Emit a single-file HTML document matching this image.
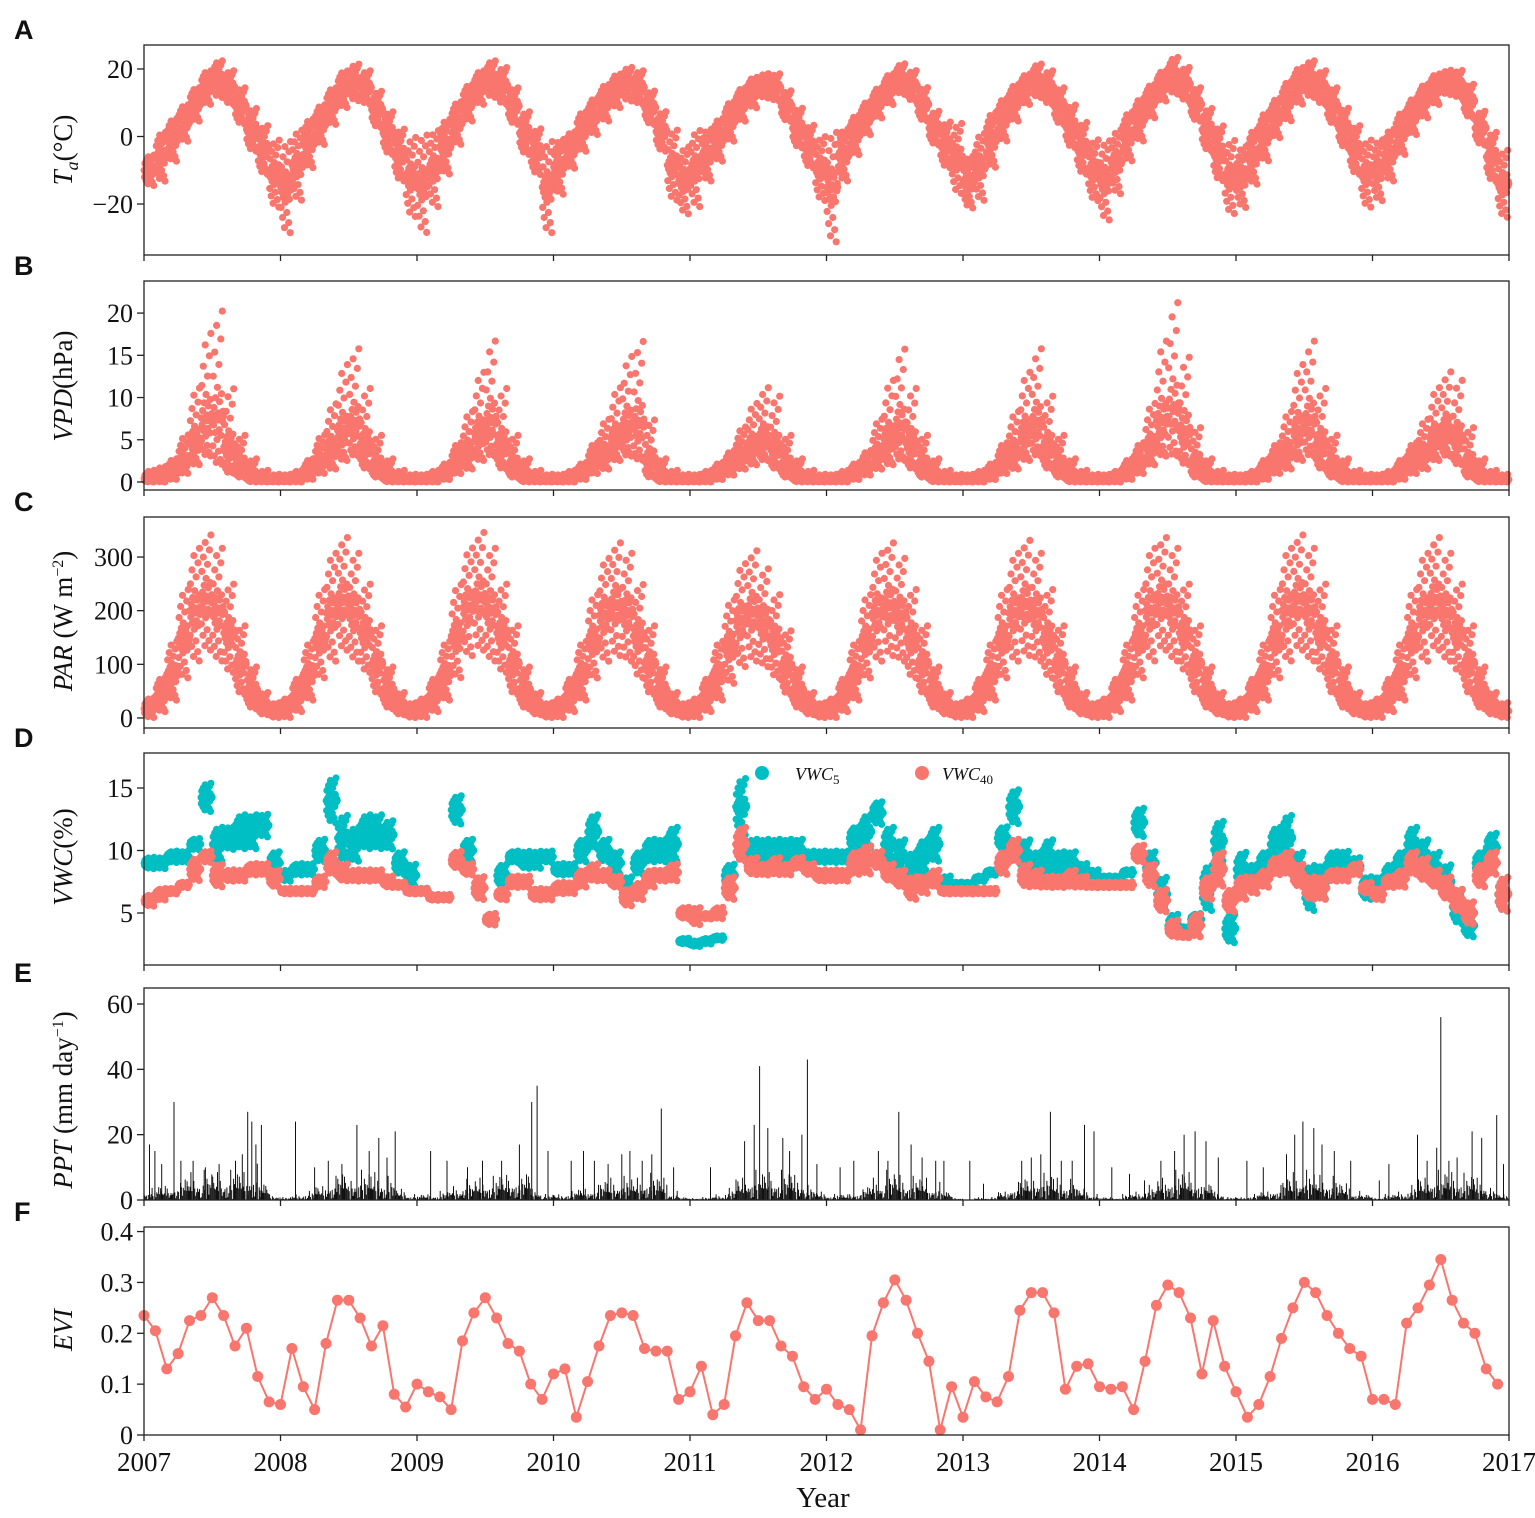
<!DOCTYPE html>
<html><head><meta charset="utf-8">
<style>
html,body{margin:0;padding:0;background:#fff;}
svg{display:block;}
.tick{font-family:"Liberation Serif",serif;font-size:26px;fill:#111;}
.plab{font-family:"Liberation Sans",sans-serif;font-weight:bold;font-size:27px;fill:#111;}
.ytitle{font-family:"Liberation Serif",serif;font-size:27px;fill:#111;}
</style></head>
<body>
<svg id="chart" width="1535" height="1518" xmlns="http://www.w3.org/2000/svg"></svg>
<script>
// ---------- data (monthly, Jan 2007 .. Dec 2016) ----------
const taLo = [-15,-14,-8,-2,4,9,11,9,3,-5,-12,-22, -30,-20,-10,-3,3,8,10,9,2,-6,-14,-25, -30,-22,-12,-3,4,9,11,9,3,-6,-12,-30, -18,-10,-5,0,4,8,10,9,3,-5,-20,-24, -22,-14,-8,-2,4,8,11,10,4,-4,-10,-20, -33,-14,-6,0,5,9,12,10,4,-3,-10,-18, -22,-20,-10,-2,4,9,11,9,3,-4,-12,-20, -26,-18,-8,-2,5,10,12,10,4,-5,-14,-24, -22,-15,-8,-1,4,9,11,9,3,-4,-12,-22, -20,-14,-6,0,5,9,12,11,5,-3,-14,-25];
const taHi = [-5,2,6,10,15,20,23,20,15,9,4,0, 0,3,6,10,15,20,22,20,14,8,3,1, 2,3,6,11,16,20,23,21,15,8,3,0, 0,2,8,12,16,19,21,20,14,8,3,-2, 3,3,6,11,15,18,19,19,14,9,4,1, 3,3,7,11,15,19,22,20,15,8,5,5, -5,2,8,12,16,19,22,20,15,10,5,0, 0,3,8,12,16,20,24,21,15,9,4,0, -2,3,8,12,17,21,23,20,15,9,4,0, 0,3,8,12,16,19,20,20,16,8,2,-3];
const vpdLo = [0,0,0.3,1,2,3,2,1,0.5,0,0,0, 0,0,0.3,1,1.5,2.5,3,1.5,0.5,0,0,0, 0,0,0.3,1,1.5,2.5,3,1.5,0.5,0,0,0, 0,0,0.3,1,1.5,2.5,3,2.5,0.5,0,0,0, 0,0,0.3,0.8,1.5,2,2.5,1.5,0.5,0,0,0, 0,0,0.3,0.8,1.5,2,2.5,1.5,0.5,0,0,0, 0,0,0.3,1,1.5,2.5,3,1.5,0.5,0,0,0, 0,0,0.3,1,2,3,3,2,0.5,0,0,0, 0,0,0.3,1,1.5,2.5,3,1.5,0.5,0,0,0, 0,0,0.3,1,1.5,2.5,3,2,0.5,0,0,0];
const vpdHi = [1.5,2,3,6,12,19,22,12,6,3,1.5,1, 1,1.5,3,6,10,15,17,12,6,3,1.5,1, 1,1.5,2.5,5,9,14,18,12,6,3,1.5,1, 1,1.5,2.5,5,8,12,16,18,8,3,1.5,1, 1,1.5,2.5,4,7,10,12,11,6,3,1.5,1, 1,1.5,2.5,4,8,13,17,12,6,3,1.5,1, 1,1.5,2.5,5,9,14,17,11,6,3,1.5,1, 1,1.5,3,5,10,18,23,16,7,3,1.5,1, 1,1.5,3,5,9,15,18,12,6,3,1.5,1, 1,1.5,3,5,8,12,14,13,7,3,1.5,1];
const parLo = [0,10,30,70,100,120,100,80,40,15,5,0, 0,10,30,70,100,120,100,80,40,15,5,0, 0,10,30,70,110,120,100,80,40,15,5,0, 0,10,30,70,100,110,100,70,40,15,5,0, 0,10,30,60,90,100,90,70,40,15,5,0, 0,10,30,70,100,110,100,70,40,15,5,0, 0,10,30,70,100,110,100,70,40,15,5,0, 0,10,30,70,100,120,100,80,40,15,5,0, 0,10,30,70,100,120,100,80,40,15,5,0, 0,10,30,70,100,120,100,80,40,15,5,0];
const parHi = [40,80,150,250,330,355,330,260,180,100,50,30, 40,80,150,250,320,350,320,260,180,100,50,30, 40,80,150,260,330,360,330,260,180,100,50,30, 40,80,150,240,310,340,320,260,180,100,50,30, 40,80,150,230,300,325,290,240,170,100,50,30, 40,80,150,240,320,340,310,250,180,100,50,30, 40,80,150,250,320,345,320,250,180,100,50,30, 40,80,150,250,330,350,330,260,180,100,50,30, 40,80,150,250,330,355,330,260,180,100,50,30, 40,80,150,250,320,350,320,260,180,100,50,30];
const vwc5Lo = [8.5,8.5,9,9,10,13,9,10,10,10,11,8, 7.5,8,8,9,12,9,9,10,10,10,8,7, 6.5,6,6,12,9,6,4,7,9,8.5,8.5,9, 8,8,9,10,9,8,6,8,9,9,9,2.5, 2.3,2.5,2.8,7,11,9,9,9,9,9,9,9, 9,9,10,10,12,9,8,7,8,9,7,7, 7,7.5,8,10,12,8,8,8,8,8,8,7.5, 7.5,7.5,8,11,8,5,3,3,4,5,9,2.5, 7,7,8,9,9,7,5,6,8,8.5,8,6, 6,7,8,9,8,7,6,4,3,8,9,5];
const vwc5Hi = [9.5,9.5,10,10,11,15.5,12,12,13,13,13,10, 8.5,9,9,11,16,13,12,13,13,12.5,10,9, 7,6.5,6.5,14.5,11,8,5,9,10,10,10,10, 9,9,11,13,11,10,8,10,11,11,12,3, 2.8,3,3.2,9,16,11,11,11,11,11,10,10, 10,10,12,13,14,12,11,10,11,12,8,7.5, 7.5,8,8.5,12,15,11,10,11,10,10,9,8.5, 8,8,8.5,13.5,10,8,5,4,5,9,12.5,5, 10,9,10,12,13,10,9,9,10,10,9.5,8, 8,9,10,12,11,10,9,7,5,10,11.5,8];
const vwc40Lo = [5.5,6,6.5,7,7.5,9,7,7.5,7.5,8,8,7, 6.5,6.5,6.5,7,8,7.5,7.5,7.5,7.5,7,7,6.5, 6.5,6,6,8.5,8,6,4,6,7,7,6,6, 6.5,6.5,7,7.5,7.5,7,5.5,6,7,7.5,7.5,4.5, 4,4.5,4.5,6,9,8,8,8,8,8.5,8,7.5, 7.5,7.5,8,8,8.5,7.5,7,6,6.5,7,6.5,6.5, 6.5,6.5,6.5,8,9,7,7,7,7,7,7,7, 7,7,7,9,7,5,3,3,3,6,7,5, 6,6.5,7,8,8,7,6,6,7.5,7.5,8,6.5, 6,7,7,8,7.5,7,6,5,4,7,8,5];
const vwc40Hi = [6.5,7,7,7.5,9.5,10,9,8.5,8.5,9,9,8.5, 7,7,7,8,10,9,8.5,8.5,8.5,8,7.5,7, 7,6.5,6.5,10,9,8,5,7,8,8,7,7, 7.5,7.5,8.5,9,8.5,8,7,7.5,8.5,8.5,9,5.5, 5.5,5,5.5,8,12,9.5,9,9.5,9,9.5,9,8.5, 8.5,8.5,10,10.5,10,9,8.5,8,8,8.5,7,7, 7,7,7,10,11,9,8.5,8,8,8.5,8,7.5, 7.5,7.5,7.5,10.5,9,7,4.5,3.5,5,8,10,7, 8,8,8.5,9.5,10,9,8,8,8.5,8.5,9,7.5, 7,8,8.5,10,9.5,8.5,8,7,6,9,10,8];
const pptDates = [2007.04,2007.08,2007.13,2007.22,2007.27,2007.36,2007.45,2007.55,2007.67,2007.72,2007.76,2007.79,2007.82,2007.86, 2008.11,2008.25,2008.35,2008.45,2008.56,2008.65,2008.72,2008.78,2008.84, 2009.10,2009.22,2009.37,2009.48,2009.62,2009.75,2009.84,2009.88,2009.96, 2010.13,2010.22,2010.30,2010.40,2010.50,2010.56,2010.65,2010.72,2010.79,2010.88, 2011.15,2011.40,2011.47,2011.51,2011.57,2011.68,2011.73,2011.82,2011.86,2011.93, 2012.10,2012.20,2012.38,2012.45,2012.53,2012.62,2012.70,2012.80,2012.86, 2013.05,2013.15,2013.43,2013.50,2013.57,2013.64,2013.72,2013.80,2013.89,2013.96, 2014.09,2014.22,2014.33,2014.45,2014.55,2014.62,2014.70,2014.78,2014.87, 2015.08,2015.20,2015.37,2015.43,2015.49,2015.57,2015.63,2015.72,2015.84, 2016.05,2016.12,2016.33,2016.40,2016.47,2016.50,2016.56,2016.62,2016.73,2016.80,2016.91,2016.96];
const pptVals = [17,15,11,30,12,12,10,11,12,14,27,24,17,23, 24,10,12,11,23,15,19,13,21, 15,12,10,12,12,17,30,35,15, 12,15,12,11,14,15,12,14,28,10, 10,18,23,41,22,19,15,20,43,11, 10,12,15,12,27,17,13,12,12, 12,5,12,13,14,27,12,12,23,21, 10,8,6,12,15,20,21,18,13, 12,10,14,20,24,22,17,15,12, 6,11,20,12,16,56,12,13,21,19,26,11];
const pptSmall = [4,5,6,8,10,10,10,10,10,12,6,2, 1,2,3,5,8,10,10,10,10,8,4,2, 2,2,3,5,7,8,8,9,10,10,4,2, 2,3,4,5,7,8,8,8,9,8,3,1, 1,1,2,4,8,10,10,10,10,9,5,3, 2,2,3,5,8,10,9,8,8,6,3,1, 0,1,1,3,6,8,10,9,8,7,4,2, 1,1,2,3,5,8,10,10,9,6,3,1, 1,2,3,5,8,10,10,9,8,6,3,2, 1,2,3,5,8,10,10,10,9,8,4,2];
const evi = [.235,.205,.13,.16,.225,.235,.27,.235,.175,.21,.115,.065, .06,.17,.095,.05,.18,.265,.265,.23,.175,.215,.08,.055, .10,.085,.075,.05,.185,.24,.27,.23,.18,.165,.10,.07, .12,.13,.035,.105,.175,.235,.24,.235,.17,.165,.165,.07, .085,.135,.04,.06,.195,.26,.225,.225,.175,.155,.095,.07, .09,.06,.05,.01,.195,.26,.305,.265,.20,.145,.01,.095, .035,.105,.075,.065,.115,.245,.28,.28,.24,.09,.135,.14, .095,.09,.095,.05,.145,.255,.295,.28,.23,.12,.225,.135, .085,.035,.06,.115,.19,.25,.30,.28,.235,.20,.17,.155, .07,.07,.06,.22,.25,.295,.345,.265,.22,.20,.13,.10];
const yearTicks = [2007,2008,2009,2010,2011,2012,2013,2014,2015,2016,2017];

// ---------- layout ----------
const NS = "http://www.w3.org/2000/svg";
const svg = document.getElementById('chart');
const X0 = 144, X1 = 1509;
const RED = "#F8766D", TEAL = "#00BFC4";
const FR = [0.5,0.3,0.7,0.45,0.55,0.2,0.8,0.4,0.6,0.5,0.1,0.9,0.35,0.65,0.48,0.52,0.25,0.75,0.42,0.58,0.5,0.15,0.85,0.38,0.62,0.05,0.95,0.47,0.53,0.5];
function xs(t){ return X0 + (t - 2007) / 10 * (X1 - X0); }
function mk(tag, attrs, parent){ const e = document.createElementNS(NS, tag); for (const k in attrs) e.setAttribute(k, attrs[k]); (parent||svg).appendChild(e); return e; }

const panels = {
  A:{top:45,bot:255,ymin:-35.1,ymax:27.1,ticks:[-20,0,20],labels:["\u221220","0","20"]},
  B:{top:281,bot:490,ymin:-0.95,ymax:23.8,ticks:[0,5,10,15,20],labels:["0","5","10","15","20"]},
  C:{top:517,bot:728,ymin:-18.7,ymax:374.6,ticks:[0,100,200,300],labels:["0","100","200","300"]},
  D:{top:753,bot:965,ymin:0.84,ymax:17.8,ticks:[5,10,15],labels:["5","10","15"]},
  E:{top:988,bot:1200,ymin:0,ymax:64.9,ticks:[0,20,40,60],labels:["0","20","40","60"]},
  F:{top:1227,bot:1435,ymin:0,ymax:0.409,ticks:[0,0.1,0.2,0.3,0.4],labels:["0","0.1","0.2","0.3","0.4"]}
};
function ys(p, v){ return p.bot - (v - p.ymin) / (p.ymax - p.ymin) * (p.bot - p.top); }

function scatterBand(p, lo, hi, color, power, name){
  const g = mk('g', {fill: color});
  
  
  for (let m = 0; m < lo.length; m++){
    for (let k = 0; k < FR.length; k++){
      const t = 2007 + (m + (k + 0.5) / FR.length) / 12;
      const f = Math.pow(FR[k], power);
      const v = lo[m] + (hi[m] - lo[m]) * f;
      const c = mk('circle', {cx: xs(t).toFixed(1), cy: ys(p, v).toFixed(1), r: 3.6}, g);
      
      
    }
  }
}

function frame(key, p){
  const g = mk('g', {});
  
  
  mk('rect', {x:X0, y:p.top, width:X1-X0, height:p.bot-p.top, fill:'none', stroke:'#222', 'stroke-width':1.3}, g);
  p.ticks.forEach((v,i)=>{
    const y = ys(p, v);
    mk('line', {x1:X0-7, x2:X0, y1:y, y2:y, stroke:'#222', 'stroke-width':1.3}, g);
    const t = mk('text', {x:X0-11, y:y+9, 'text-anchor':'end', class:'tick'}, g);
    t.textContent = p.labels[i];
    
    
  });
  yearTicks.forEach(yr=>{
    const x = xs(yr);
    mk('line', {x1:x, x2:x, y1:p.bot, y2:p.bot+6, stroke:'#222', 'stroke-width':1.3}, g);
  });
  const pl = mk('text', {x:14, y:p.top - 6, class:'plab'});
  pl.textContent = key;
  
  
}

scatterBand(panels.A, taLo, taHi, RED, 1, 'ta-series');
scatterBand(panels.B, vpdLo, vpdHi, RED, 1.8, 'vpd-series');
scatterBand(panels.C, parLo, parHi, RED, 1.2, 'par-series');
scatterBand(panels.D, vwc5Lo, vwc5Hi, TEAL, 1, 'vwc5-series');
scatterBand(panels.D, vwc40Lo, vwc40Hi, RED, 1, 'vwc40-series');

(function(){
  const p = panels.E;
  const g = mk('g', {stroke:'#111', 'stroke-width':1});
  
  
  for (let m = 0; m < pptSmall.length; m++){
    for (let k = 0; k < 12; k++){
      const t = 2007 + (m + (k + 0.5) / 12) / 12;
      const v = pptSmall[m] * Math.pow(FR[(k*7+m)%FR.length], 1.5);
      const l = mk('line', {x1:xs(t).toFixed(1), x2:xs(t).toFixed(1), y1:ys(p,0), y2:ys(p,v).toFixed(1)}, g);
      
      
    }
  }
  pptDates.forEach((d,i)=>{
    const l = mk('line', {x1:xs(d).toFixed(1), x2:xs(d).toFixed(1), y1:ys(p,0), y2:ys(p,pptVals[i]).toFixed(1)}, g);
    
    
  });
})();

(function(){
  const p = panels.F;
  const g = mk('g', {});
  
  
  const pts = evi.map((v,i)=>[xs(2007 + i/12), ys(p, v)]);
  mk('polyline', {points: pts.map(q=>q[0].toFixed(1)+','+q[1].toFixed(1)).join(' '), fill:'none', stroke:RED, 'stroke-width':2}, g);
  pts.forEach(q=>{
    const c = mk('circle', {cx:q[0].toFixed(1), cy:q[1].toFixed(1), r:5.5, fill:RED}, g);
    
    
  });
})();

Object.keys(panels).forEach(k=>frame(k, panels[k]));

yearTicks.forEach(yr=>{
  const t = mk('text', {x:xs(yr), y:1471, 'text-anchor':'middle', class:'tick'});
  t.style.fontSize = '27px';
  t.textContent = yr;
  
  
});
const xt = mk('text', {x:823, y:1507, 'text-anchor':'middle', class:'ytitle'});
xt.style.fontSize = '29px';
xt.textContent = 'Year';



function ytitle(cy, html, name){
  const t = mk('text', {x:0, y:0, 'text-anchor':'middle', class:'ytitle', transform:'translate(72,'+cy+') rotate(-90)'});
  t.innerHTML = html;
  
  
}
ytitle(150, '<tspan font-style="italic">T</tspan><tspan font-style="italic" font-size="18" dy="6">a</tspan><tspan dy="-6">(°C)</tspan>', 'y-axis-title-ta');
ytitle(386, '<tspan font-style="italic">VPD</tspan>(hPa)', 'y-axis-title-vpd');
ytitle(621, '<tspan font-style="italic">PAR</tspan> (W m<tspan font-size="16" dy="-9">−2</tspan><tspan dy="9">)</tspan>', 'y-axis-title-par');
ytitle(857, '<tspan font-style="italic">VWC</tspan>(%)', 'y-axis-title-vwc');
ytitle(1100, '<tspan font-style="italic">PPT</tspan> (mm day<tspan font-size="16" dy="-9">−1</tspan><tspan dy="9">)</tspan>', 'y-axis-title-ppt');
ytitle(1330, '<tspan font-style="italic">EVI</tspan>', 'y-axis-title-evi');

(function(){
  const g = mk('g', {});
  
  
  const c1 = mk('circle', {cx:762, cy:773, r:7, fill:TEAL}, g);
  
  
  const t1 = mk('text', {x:795, y:780, class:'ytitle'}, g);
  t1.style.fontSize = '18px';
  t1.innerHTML = '<tspan font-style="italic">VWC</tspan><tspan font-size="13" dy="4">5</tspan>';
  
  
  const c2 = mk('circle', {cx:922, cy:773, r:7, fill:RED}, g);
  
  
  const t2 = mk('text', {x:942, y:780, class:'ytitle'}, g);
  t2.style.fontSize = '18px';
  t2.innerHTML = '<tspan font-style="italic">VWC</tspan><tspan font-size="13" dy="4">40</tspan>';
  
  
})();
</script>
</body></html>
